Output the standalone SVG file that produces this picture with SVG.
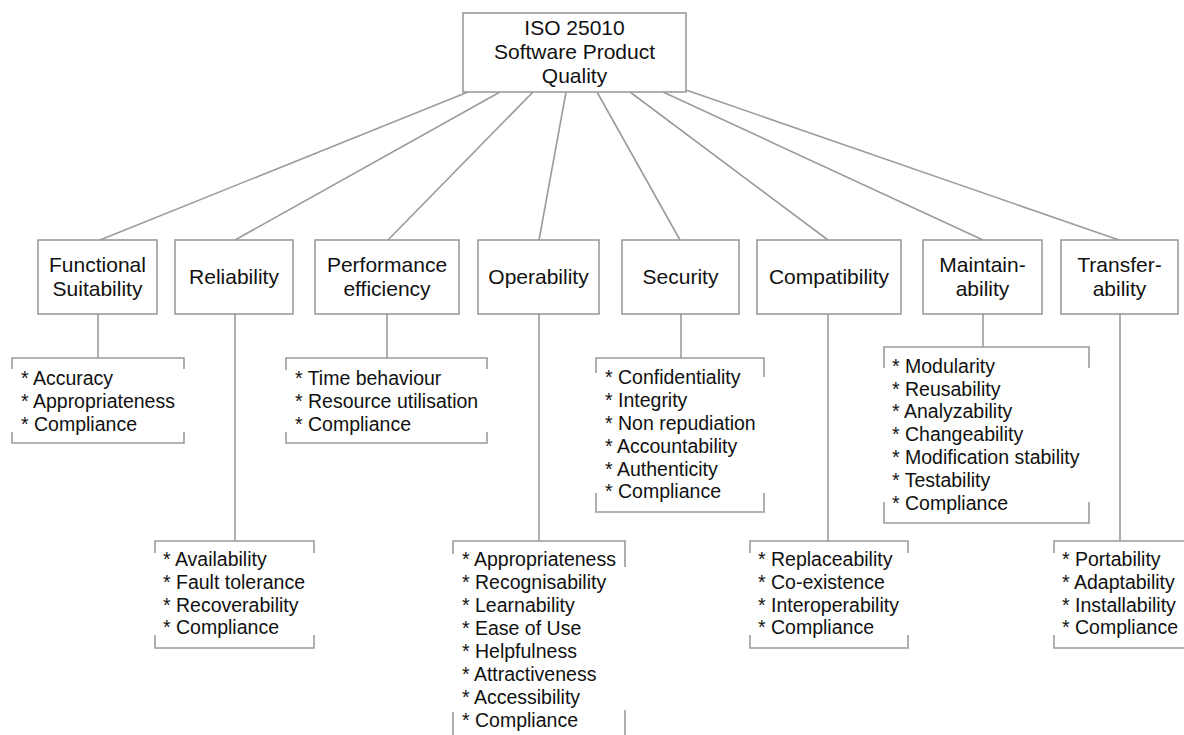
<svg xmlns="http://www.w3.org/2000/svg" width="1184" height="735" viewBox="0 0 1184 735">
  <style>
    .box { fill: #ffffff; stroke: #9b9b9b; stroke-width: 1.6; }
    .wire { fill: none; stroke: #9b9b9b; stroke-width: 1.6; }
    .title { font-family: "Liberation Sans", Arial, sans-serif; font-size: 21px; fill: #111111; text-anchor: middle; }
    .item { font-family: "Liberation Sans", Arial, sans-serif; font-size: 19.5px; fill: #111111; }
  </style>
  <rect width="1184" height="735" fill="#ffffff"/>

  <!-- connectors: root to characteristics, characteristics to sub-lists -->
  <g id="connectors" class="wire">
    <line x1="468" y1="92" x2="100" y2="240"/>
    <line x1="500" y1="92" x2="235" y2="240"/>
    <line x1="533" y1="92" x2="388" y2="240"/>
    <line x1="566" y1="92" x2="539" y2="240"/>
    <line x1="597" y1="92" x2="680" y2="240"/>
    <line x1="630" y1="92" x2="828" y2="240"/>
    <line x1="663" y1="92" x2="983" y2="240"/>
    <line x1="686" y1="90" x2="1119" y2="240"/>

    <line x1="98" y1="314" x2="98" y2="358"/>
    <line x1="235" y1="314" x2="235" y2="541"/>
    <line x1="387" y1="314" x2="387" y2="358"/>
    <line x1="539" y1="314" x2="539" y2="541"/>
    <line x1="681" y1="314" x2="681" y2="358"/>
    <line x1="828" y1="314" x2="828" y2="541"/>
    <line x1="983" y1="314" x2="983" y2="347"/>
    <line x1="1120" y1="314" x2="1120" y2="541"/>
  </g>

  <!-- root -->
  <g id="root">
    <rect class="box" x="463" y="13" width="223" height="79"/>
    <text class="title" x="574.5" y="35">ISO 25010</text>
    <text class="title" x="574.5" y="59">Software Product</text>
    <text class="title" x="574.5" y="83">Quality</text>
  </g>

  <!-- characteristics -->
  <g id="functional-suitability">
    <rect class="box" x="38" y="240" width="119" height="74"/>
    <text class="title" x="97.5" y="272">Functional</text>
    <text class="title" x="97.5" y="296">Suitability</text>
  </g>
  <g id="reliability">
    <rect class="box" x="175" y="240" width="118" height="74"/>
    <text class="title" x="234" y="284">Reliability</text>
  </g>
  <g id="performance-efficiency">
    <rect class="box" x="315" y="240" width="144" height="74"/>
    <text class="title" x="387" y="272">Performance</text>
    <text class="title" x="387" y="296">efficiency</text>
  </g>
  <g id="operability">
    <rect class="box" x="478" y="240" width="121" height="74"/>
    <text class="title" x="538.5" y="284">Operability</text>
  </g>
  <g id="security">
    <rect class="box" x="622" y="240" width="117" height="74"/>
    <text class="title" x="680.5" y="284">Security</text>
  </g>
  <g id="compatibility">
    <rect class="box" x="757" y="240" width="144" height="74"/>
    <text class="title" x="829" y="284">Compatibility</text>
  </g>
  <g id="maintainability">
    <rect class="box" x="923" y="240" width="119" height="74"/>
    <text class="title" x="982.5" y="272">Maintain-</text>
    <text class="title" x="982.5" y="296">ability</text>
  </g>
  <g id="transferability">
    <rect class="box" x="1061" y="240" width="117" height="74"/>
    <text class="title" x="1119.5" y="272">Transfer-</text>
    <text class="title" x="1119.5" y="296">ability</text>
  </g>

  <!-- sub-characteristic lists (bracketed) -->
  <g id="list-functional-suitability">
    <path class="wire" d="M12 369 V358 H184 V369 M12 432 V443 H184 V432"/>
    <text class="item" x="21" y="385">* Accuracy</text>
    <text class="item" x="21" y="408">* Appropriateness</text>
    <text class="item" x="21" y="431">* Compliance</text>
  </g>
  <g id="list-performance-efficiency">
    <path class="wire" d="M286 370 V358 H487 V369 M286 432 V443 H487 V432"/>
    <text class="item" x="295" y="385">* Time behaviour</text>
    <text class="item" x="295" y="408">* Resource utilisation</text>
    <text class="item" x="295" y="431">* Compliance</text>
  </g>
  <g id="list-security">
    <path class="wire" d="M596 373 V358 H764 V377 M596 493 V512 H764 V493"/>
    <text class="item" x="605" y="384">* Confidentiality</text>
    <text class="item" x="605" y="407">* Integrity</text>
    <text class="item" x="605" y="430">* Non repudiation</text>
    <text class="item" x="605" y="453">* Accountability</text>
    <text class="item" x="605" y="476">* Authenticity</text>
    <text class="item" x="605" y="498">* Compliance</text>
  </g>
  <g id="list-maintainability">
    <path class="wire" d="M884 368 V347 H1089 V368 M884 502 V523 H1089 V502"/>
    <text class="item" x="892" y="373">* Modularity</text>
    <text class="item" x="892" y="396">* Reusability</text>
    <text class="item" x="892" y="418">* Analyzability</text>
    <text class="item" x="892" y="441">* Changeability</text>
    <text class="item" x="892" y="464">* Modification stability</text>
    <text class="item" x="892" y="487">* Testability</text>
    <text class="item" x="892" y="510">* Compliance</text>
  </g>
  <g id="list-reliability">
    <path class="wire" d="M155 553 V541 H314 V553 M155 635 V648 H314 V635"/>
    <text class="item" x="163" y="566">* Availability</text>
    <text class="item" x="163" y="589">* Fault tolerance</text>
    <text class="item" x="163" y="612">* Recoverability</text>
    <text class="item" x="163" y="634">* Compliance</text>
  </g>
  <g id="list-operability">
    <path class="wire" d="M453 554 V541 H625 V567 M453 712 V745 M625 710 V745"/>
    <text class="item" x="462" y="566">* Appropriateness</text>
    <text class="item" x="462" y="589">* Recognisability</text>
    <text class="item" x="462" y="612">* Learnability</text>
    <text class="item" x="462" y="635">* Ease of Use</text>
    <text class="item" x="462" y="658">* Helpfulness</text>
    <text class="item" x="462" y="681">* Attractiveness</text>
    <text class="item" x="462" y="704">* Accessibility</text>
    <text class="item" x="462" y="727">* Compliance</text>
  </g>
  <g id="list-compatibility">
    <path class="wire" d="M750 553 V541 H908 V553 M750 635 V648 H908 V635"/>
    <text class="item" x="758" y="566">* Replaceability</text>
    <text class="item" x="758" y="589">* Co-existence</text>
    <text class="item" x="758" y="612">* Interoperability</text>
    <text class="item" x="758" y="634">* Compliance</text>
  </g>
  <g id="list-transferability">
    <path class="wire" d="M1054 553 V541 H1200 M1054 635 V648 H1200"/>
    <text class="item" x="1062" y="566">* Portability</text>
    <text class="item" x="1062" y="589">* Adaptability</text>
    <text class="item" x="1062" y="612">* Installability</text>
    <text class="item" x="1062" y="634">* Compliance</text>
  </g>
</svg>
